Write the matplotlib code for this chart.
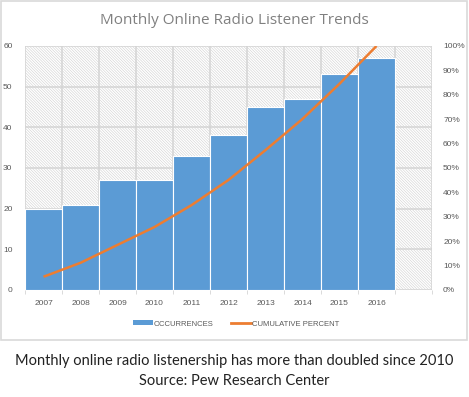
import matplotlib
matplotlib.use("Agg")
import matplotlib.pyplot as plt
import numpy as np
from matplotlib.patches import Rectangle
from matplotlib.lines import Line2D
from matplotlib.patches import Patch

years = ["2007", "2008", "2009", "2010", "2011", "2012", "2013", "2014", "2015", "2016"]
occurrences = [20, 21, 27, 27, 33, 38, 45, 47, 53, 57]
left_ticks = [0, 10, 20, 30, 40, 50, 60]
right_ticks = [0, 10, 20, 30, 40, 50, 60, 70, 80, 90, 100]

title = "Monthly Online Radio Listener Trends"
caption = "Monthly online radio listenership has more than doubled since 2010"
source = "Source: Pew Research Center"

W, H = 469, 397
fig = plt.figure(figsize=(W / 100, H / 100), dpi=100)
plt.rcParams['hatch.linewidth'] = 0.4
plt.rcParams['hatch.color'] = '#CFCFCF'

def fx(px):
    return px / W

def fy(py):
    return 1 - py / H

ax_l, ax_r, ax_t, ax_b = 25, 432, 46, 290
ax = fig.add_axes([fx(ax_l), fy(ax_b), (ax_r - ax_l) / W, (ax_b - ax_t) / H])

grid_c = '#D4D4D4'
tick_c = '#595959'
font = 'Liberation Sans'

# hatched background
ax.add_patch(Rectangle((0, 0), 1, 1, transform=ax.transAxes, facecolor='white',
                       edgecolor='#CFCFCF', hatch='\\' * 12, lw=0, zorder=0))

n = len(years)
x = np.arange(n)
ax.set_xlim(-0.5, n + 0.5)
ax.set_ylim(0, 60)

# grid
for yv in left_ticks:
    ax.axhline(yv, color=grid_c, lw=1.1, zorder=1)
for xv in np.arange(-0.5, n + 1.0, 1.0):
    ax.axvline(xv, color=grid_c, lw=1.1, zorder=1)

ax.bar(x, occurrences, width=1.0, color='#5B9BD5', edgecolor='white', lw=0.8, zorder=2)

for s in ax.spines.values():
    s.set_visible(False)

ax.set_yticks(left_ticks)
ax.set_yticklabels([str(v) for v in left_ticks], fontsize=6, color=tick_c, fontfamily=font)
ax.tick_params(axis='y', length=0, pad=9)
ax.set_xticks(np.arange(-0.5, n + 1.0, 1.0), minor=True)
ax.set_xticks(x)
ax.set_xticklabels(years, fontsize=6, color=tick_c, fontfamily=font)
ax.tick_params(axis='x', which='major', length=0, pad=7)
ax.tick_params(axis='x', which='minor', length=3, color=grid_c)

ax2 = ax.twinx()
ax2.set_ylim(0, 100)
for s in ax2.spines.values():
    s.set_visible(False)
cum = np.cumsum(occurrences) / np.sum(occurrences) * 100
ax2.plot(x, cum, color='#ED7D31', lw=1.8, zorder=3, solid_capstyle='butt')
ax2.set_yticks(right_ticks)
ax2.set_yticklabels([f"{v}%" for v in right_ticks], fontsize=6, color=tick_c, fontfamily=font)
ax2.tick_params(axis='y', length=0, pad=8)

# chart frame
fig.add_artist(Rectangle((fx(1), fy(340)), (466) / W, (339) / H, transform=fig.transFigure,
                         facecolor='none', edgecolor='#D9D9D9', lw=1.2))

fig.text(fx(234), fy(20), title, ha='center', va='center', fontsize=11,
         color='#808080', fontfamily='Open Sans')

handles = [Patch(facecolor='#5B9BD5', edgecolor='none'),
           Line2D([0], [0], color='#ED7D31', lw=2)]
leg = fig.legend(handles, ["OCCURRENCES", "CUMULATIVE PERCENT"], loc='center',
                 bbox_to_anchor=(fx(236), fy(324)), ncol=2, frameon=False,
                 prop={'family': font, 'size': 5.5}, labelcolor=tick_c,
                 handlelength=2.6, handleheight=0.6, handletextpad=0.2, columnspacing=2.2)

fig.text(fx(234), fy(361), caption, ha='center', va='center', fontsize=10.5,
         color='#222222', fontfamily='Lato')
fig.text(fx(234), fy(381), source, ha='center', va='center', fontsize=10.5,
         color='#222222', fontfamily='Lato')

fig.savefig("out.png", dpi=100)
